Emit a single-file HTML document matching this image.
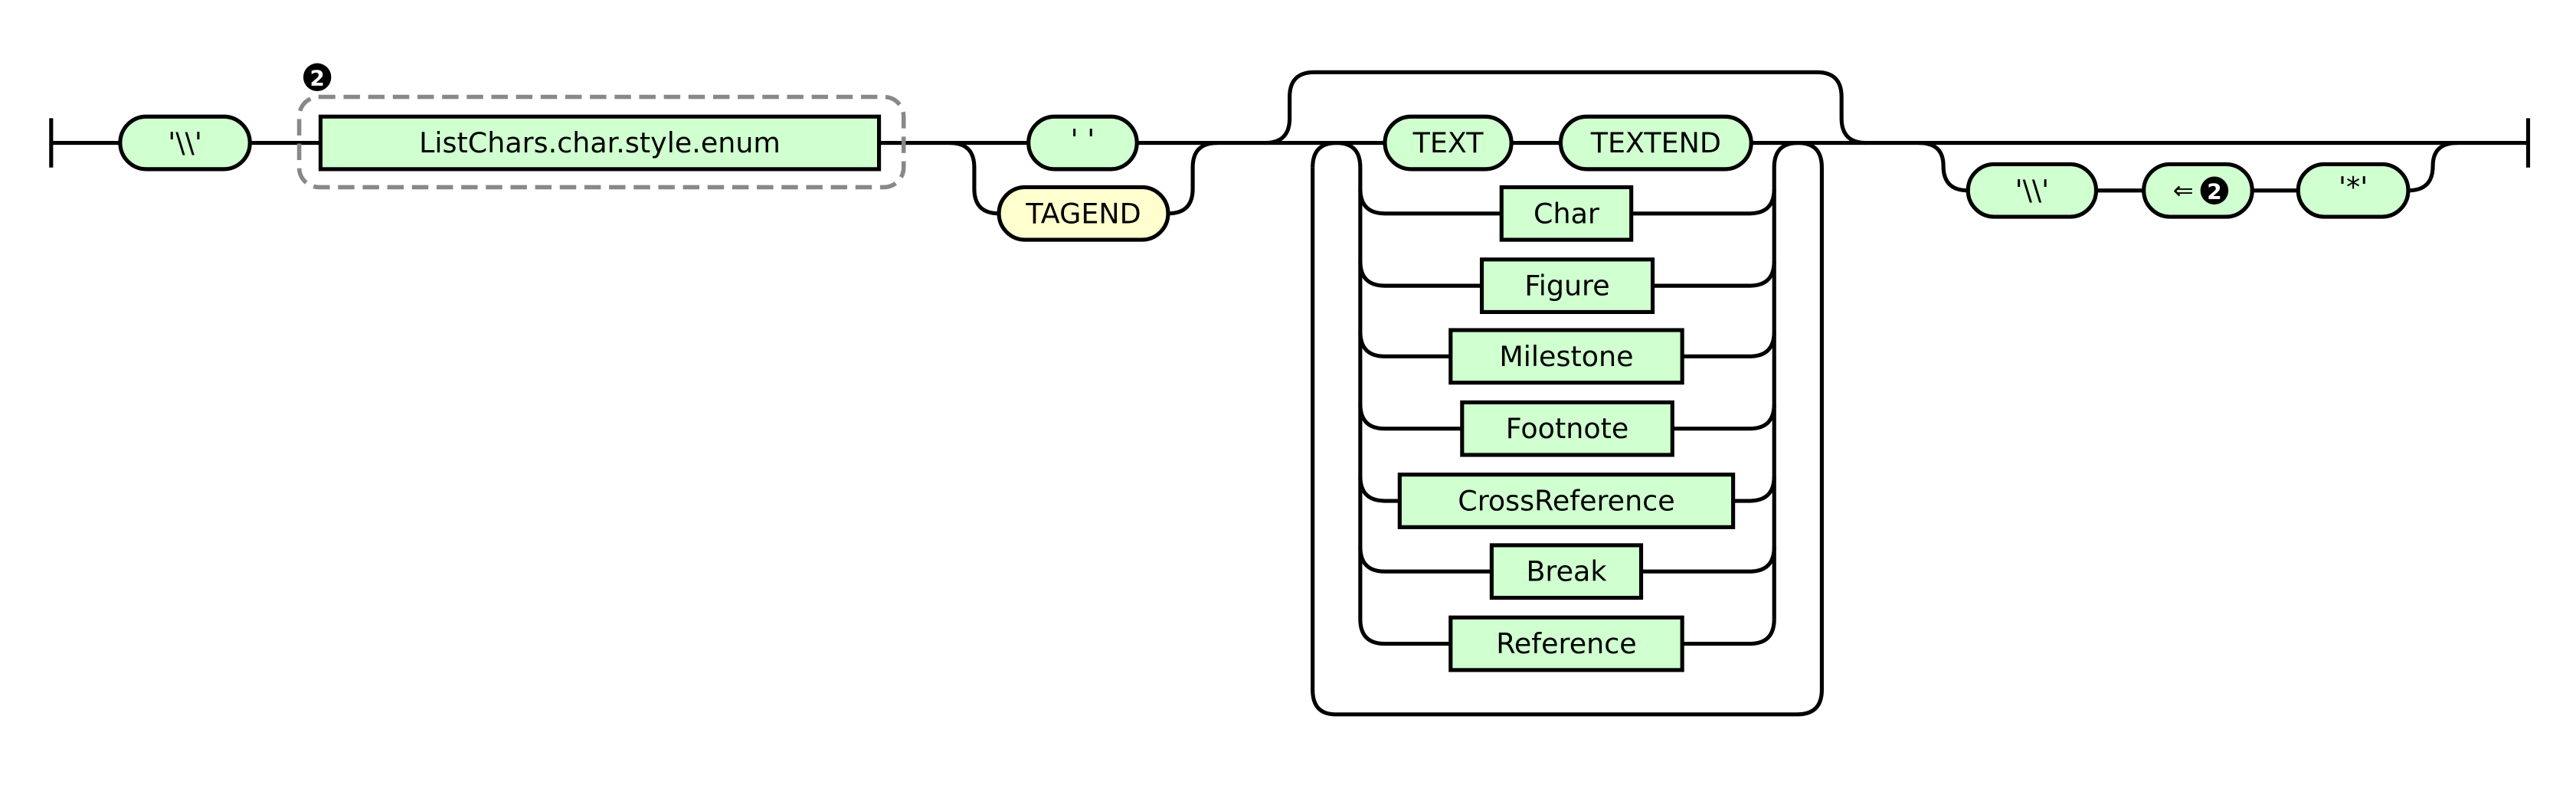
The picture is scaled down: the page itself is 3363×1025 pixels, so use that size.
<!DOCTYPE html>
<html><head><meta charset="utf-8"><style>
html,body{margin:0;padding:0;background:#fff;}
svg{display:block;}
text{font-family:"DejaVu Sans","Liberation Sans",sans-serif;font-size:17px;text-anchor:middle;dominant-baseline:central;fill:#000;}
.l{fill:none;stroke:#000;stroke-width:2.4;}
.t{fill:#d0ffd0;stroke:#000;stroke-width:2.4;}
.y{fill:#fefece;stroke:#000;stroke-width:2.4;}
</style></head><body>
<svg width="3363" height="1025" viewBox="0 0 1568 478" xmlns="http://www.w3.org/2000/svg">
<path class="l" d="M31 72V102M1539 72V102"/>
<path class="l" d="M31 87H73M152 87H195M535 87H626M692 87H843M920 87H950M1066 87H1539"/>
<rect class="t" x="73" y="71" width="79" height="32" rx="16"/><text x="112.5" y="87">'\\'</text>
<rect x="182" y="59" width="368" height="55" rx="12" fill="none" stroke="#888" stroke-width="2.6" stroke-dasharray="10,5"/>
<circle cx="193" cy="47" r="8.5" fill="#000"/><text x="193" y="47.5" style="fill:#fff;font-size:13px;font-weight:bold">2</text>
<rect class="t" x="195" y="71" width="340" height="32"/><text x="365" y="87">ListChars.char.style.enum</text>
<rect class="t" x="626" y="71" width="66" height="32" rx="16"/><text x="659" y="85">' '</text>
<path class="l" d="M578 87Q593 87 593 102V115Q593 130 608 130M711 130Q726 130 726 115V102Q726 87 741 87"/>
<rect class="y" x="608" y="114" width="103" height="32" rx="16"/><text x="659.5" y="130">TAGEND</text>
<path class="l" d="M770 87Q785 87 785 72V59Q785 44 800 44H1106Q1121 44 1121 59V72Q1121 87 1136 87"/>
<rect class="t" x="843" y="71" width="77" height="32" rx="16"/><text x="881.5" y="87">TEXT</text>
<rect class="t" x="950" y="71" width="116" height="32" rx="16"/><text x="1008" y="87">TEXTEND</text>
<path class="l" d="M799 102Q799 87 813.5 87Q828 87 828 102V377Q828 392 843 392"/>
<path class="l" d="M1080 377V102Q1080 87 1094.5 87Q1109 87 1109 102V420Q1109 435 1094 435H813Q799 435 799 420V102"/>
<g class="l">
<path d="M828 115Q828 130 843 130H914M993 130H1065Q1080 130 1080 115"/>
<path d="M828 159Q828 174 843 174H902M1006 174H1065Q1080 174 1080 159"/>
<path d="M828 202Q828 217 843 217H883M1024 217H1065Q1080 217 1080 202"/>
<path d="M828 246Q828 261 843 261H890M1018 261H1065Q1080 261 1080 246"/>
<path d="M828 290Q828 305 843 305H852M1055 305H1065Q1080 305 1080 290"/>
<path d="M828 333Q828 348 843 348H908M999 348H1065Q1080 348 1080 333"/>
<path d="M883 392H843M1024 392H1065Q1080 392 1080 377"/>
</g>
<rect class="t" x="914" y="114" width="79" height="32"/><text x="953.5" y="130">Char</text>
<rect class="t" x="902" y="158" width="104" height="32"/><text x="954" y="174">Figure</text>
<rect class="t" x="883" y="201" width="141" height="32"/><text x="953.5" y="217">Milestone</text>
<rect class="t" x="890" y="245" width="128" height="32"/><text x="954" y="261">Footnote</text>
<rect class="t" x="852" y="289" width="203" height="32"/><text x="953.5" y="305">CrossReference</text>
<rect class="t" x="908" y="332" width="91" height="32"/><text x="953.5" y="348">Break</text>
<rect class="t" x="883" y="376" width="141" height="32"/><text x="953.5" y="392">Reference</text>
<path class="l" d="M1168 87Q1183 87 1183 101Q1183 116 1198 116M1276 116H1305M1371 116H1399M1466 116Q1481 116 1481 101Q1481 87 1496 87"/>
<rect class="t" x="1198" y="100" width="78" height="32" rx="16"/><text x="1237" y="116">'\\'</text>
<rect class="t" x="1305" y="100" width="66" height="32" rx="16"/><text x="1329" y="116" style="font-size:15px">⇐</text>
<circle cx="1348" cy="116" r="8.5" fill="#000"/><text x="1348" y="116.5" style="fill:#fff;font-size:13px;font-weight:bold">2</text>
<rect class="t" x="1399" y="100" width="67" height="32" rx="16"/><text x="1432.5" y="114">'*'</text>
</svg>
</body></html>
